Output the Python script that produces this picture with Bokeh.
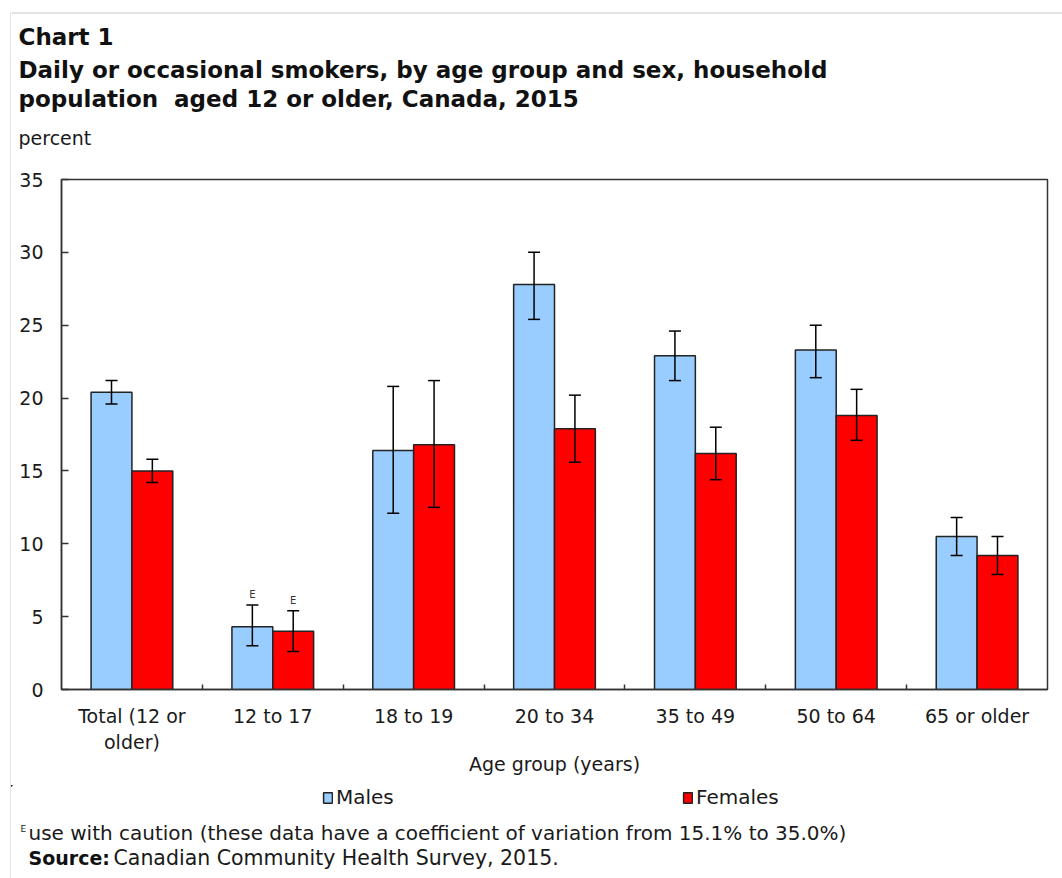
import numpy as np
from bokeh.plotting import figure
from bokeh.layouts import column, row
from bokeh.models import (ColumnDataSource, Whisker, TeeHead, Legend, LegendItem,
                          FixedTicker, Range1d)
from bokeh.core.properties import value
from bokeh.embed import file_html
from bokeh.resources import INLINE

# ---------------- data ----------------
categories = ["Total (12 or\nolder)", "12 to 17", "18 to 19", "20 to 34",
              "35 to 49", "50 to 64", "65 or older"]
males = [20.4, 4.3, 16.4, 27.8, 22.9, 23.3, 10.5]
males_low = [19.6, 3.0, 12.1, 25.4, 21.2, 21.4, 9.2]
males_high = [21.2, 5.8, 20.8, 30.0, 24.6, 25.0, 11.8]
females = [15.0, 4.0, 16.8, 17.9, 16.2, 18.8, 9.2]
females_low = [14.2, 2.6, 12.5, 15.6, 14.4, 17.1, 7.9]
females_high = [15.8, 5.4, 21.2, 20.2, 18.0, 20.6, 10.5]
males_flag = ["", "E", "", "", "", "", ""]
females_flag = ["", "E", "", "", "", "", ""]
y_ticks = [0, 5, 10, 15, 20, 25, 30, 35]
series_names = ["Males", "Females"]
series_colors = ["#99CCFF", "#FF0000"]

title_lines = ["Chart 1",
               "Daily or occasional smokers, by age group and sex, household",
               "population\u00a0 aged 12 or older, Canada, 2015"]
y_unit = "percent"
x_title = "Age group (years)"
note_text = "use with caution (these data have a coefficient of variation from 15.1% to 35.0%)"
source_head = "Source:"
source_text = "Canadian Community Health Survey, 2015."

FONT = "DejaVu Sans"
TXT = "#1a1a1a"
AX = "#333333"
BORDER = "#c8c8c8"
W, H = 1062, 878
STRIP = 11                 # left strip with the outer border line
CW = W - STRIP             # content width
TOP_H = 155                # title band
MAIN_END = 785
MAIN_H = MAIN_END - TOP_H  # chart band (incl. x axis)
BOT_H = H - MAIN_END       # legend + notes band
FRAME_L, FRAME_R, FRAME_T, FRAME_B = 61, 1047, 179, 689
NCAT = len(categories)

def bare(fig):
    fig.min_border = 0
    fig.outline_line_color = None
    fig.grid.visible = False
    fig.background_fill_color = "white"
    fig.border_fill_color = "white"
    return fig

common = dict(output_backend="svg", toolbar_location=None, frame_align=False)

# ---------------- left strip (outer border) ----------------
strip = bare(figure(width=STRIP, height=H, x_range=Range1d(0, STRIP), y_range=Range1d(H, 0),
                    x_axis_location=None, y_axis_location=None, **common))
strip.segment(x0=[10.5], y0=[12], x1=[10.5], y1=[H], line_color=BORDER, line_width=1)

# ---------------- top band: titles ----------------
top = bare(figure(width=CW, height=TOP_H, x_range=Range1d(STRIP, W), y_range=Range1d(TOP_H, 0),
                  x_axis_location=None, y_axis_location=None, **common))
top.segment(x0=[STRIP], y0=[12.5], x1=[W], y1=[12.5], line_color=BORDER, line_width=1)
title_base = [36, 69, 98]
top.text(x=[18] * 3, y=title_base, text=title_lines, text_font=value(FONT),
         text_font_size="23px", text_font_style="bold", text_color="#111111",
         text_baseline="alphabetic", text_align="left")
top.text(x=[18], y=[137], text=[y_unit], text_font=value(FONT), text_font_size="19px",
         text_color=TXT, text_baseline="alphabetic", text_align="left")

# ---------------- main chart ----------------
centers = np.arange(NCAT) + 0.5
bw = 0.29
src_m = ColumnDataSource(dict(x=centers - bw / 2, top=males, low=males_low, high=males_high, flag=males_flag))
src_f = ColumnDataSource(dict(x=centers + bw / 2, top=females, low=females_low, high=females_high, flag=females_flag))

p = figure(width=CW, height=MAIN_H, x_range=Range1d(0, NCAT), y_range=Range1d(0, y_ticks[-1]),
           min_border_left=FRAME_L - STRIP, min_border_right=W - FRAME_R,
           min_border_top=FRAME_T - TOP_H, min_border_bottom=MAIN_END - FRAME_B, **common)
p.background_fill_color = "white"
p.border_fill_color = "white"
p.outline_line_color = AX
p.outline_line_width = 1.5
p.grid.visible = False

for s, col in zip((src_m, src_f), series_colors):
    p.vbar(x="x", top="top", width=bw, source=s, fill_color=col,
           line_color="#222222", line_width=1.5)
for s in (src_m, src_f):
    w = Whisker(base="x", upper="high", lower="low", source=s, line_color="black", line_width=1.5,
                level="overlay",
                upper_head=TeeHead(size=12, line_width=1.5, line_color="black"),
                lower_head=TeeHead(size=12, line_width=1.5, line_color="black"))
    p.add_layout(w)
    p.text(x="x", y="high", text="flag", source=s, text_font_size="10px", text_align="center",
           text_baseline="bottom", y_offset=-5, text_color="#333333", text_font=value(FONT))

yax = p.yaxis[0]
yax.ticker = FixedTicker(ticks=y_ticks)
yax.major_tick_in = 7
yax.major_tick_out = 0
yax.minor_tick_line_color = None
yax.axis_line_color = AX
yax.axis_line_width = 1.5
yax.major_tick_line_color = AX
yax.major_tick_line_width = 1.5
yax.major_label_text_font = FONT
yax.major_label_text_font_size = "19px"
yax.major_label_text_color = TXT
yax.major_label_standoff = 18

xax = p.xaxis[0]
xax.ticker = FixedTicker(ticks=list(centers), minor_ticks=list(range(1, NCAT)))
xax.major_label_overrides = {float(c): lab for c, lab in zip(centers, categories)}
xax.major_tick_line_color = None
xax.minor_tick_in = 5
xax.minor_tick_out = 0
xax.minor_tick_line_color = AX
xax.minor_tick_line_width = 1.5
xax.axis_line_color = AX
xax.axis_line_width = 1.5
xax.major_label_text_font = FONT
xax.major_label_text_font_size = "19px"
xax.major_label_text_color = TXT
xax.major_label_standoff = 9
xax.axis_label = x_title
xax.axis_label_text_font = FONT
xax.axis_label_text_font_size = "19px"
xax.axis_label_text_font_style = "normal"
xax.axis_label_text_color = TXT
xax.axis_label_standoff = -3

# ---------------- bottom band: legend + notes ----------------
bot = bare(figure(width=CW, height=BOT_H, x_range=Range1d(STRIP, W), y_range=Range1d(H, MAIN_END),
                  x_axis_location=None, y_axis_location=None, **common))
# legend proxies: same series drawn in this band's coordinates fall outside its view
proxies = []
for s, col in zip((src_m, src_f), series_colors):
    proxies.append(bot.vbar(x="x", top="top", width=bw, source=s, fill_color=col,
                            line_color="#222222", line_width=1.5))
legend = Legend(items=[LegendItem(label=n, renderers=[r]) for n, r in zip(series_names, proxies)],
                orientation="horizontal", location=(322 - STRIP, H - 809),
                glyph_width=11, glyph_height=13, label_width=346, label_standoff=3,
                spacing=0, padding=0, margin=0, border_line_color=None,
                background_fill_alpha=0, label_text_font=FONT, label_text_font_size="20px",
                label_text_color=TXT, label_height=20)
bot.add_layout(legend, "center")
bot.text(x=[20], y=[828], text=["E"], text_font=value(FONT), text_font_size="9px",
         text_color=TXT, text_baseline="alphabetic", text_align="left")
bot.text(x=[28], y=[832], text=[note_text], text_font=value(FONT), text_font_size="20px",
         text_color=TXT, text_baseline="alphabetic", text_align="left")
bot.text(x=[28], y=[857], text=[source_head], text_font=value(FONT), text_font_size="19px",
         text_font_style="bold", text_color="#111111", text_baseline="alphabetic", text_align="left")
bot.text(x=[113], y=[857], text=[source_text], text_font=value(FONT), text_font_size="20.5px",
         text_color=TXT, text_baseline="alphabetic", text_align="left")

layout = row(strip, column(top, p, bot, spacing=0), spacing=0)
open("out.html", "w").write(file_html(layout, INLINE))
